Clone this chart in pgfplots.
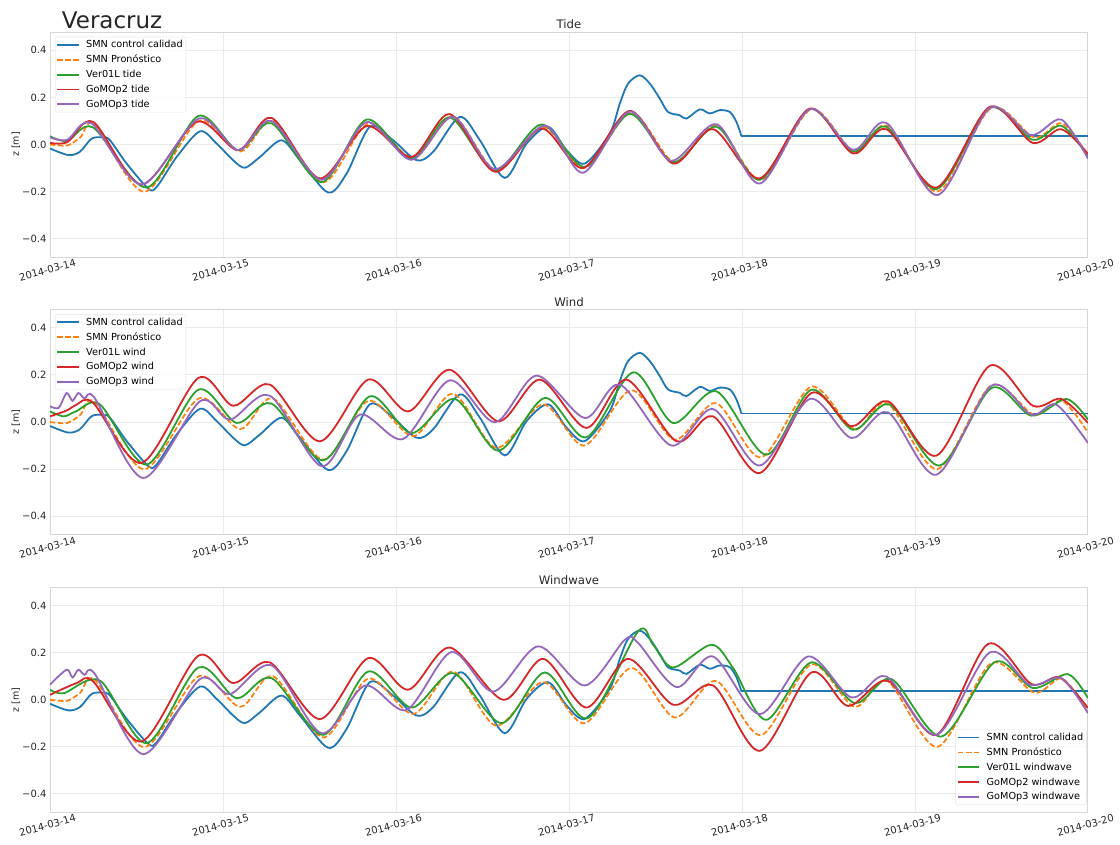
\documentclass[border=0pt]{standalone}
\usepackage{fontspec}
\setmainfont{DejaVu Sans}
\usepackage{pgfplots}
\pgfplotsset{compat=1.18}
\usepackage{pgfplotstable}
\definecolor{tabblue}{HTML}{1F77B4}
\definecolor{taborange}{HTML}{FF7F0E}
\definecolor{tabgreen}{HTML}{2CA02C}
\definecolor{tabred}{HTML}{D62728}
\definecolor{tabpurple}{HTML}{9467BD}
\definecolor{txt}{HTML}{262626}
\definecolor{gridc}{HTML}{EAEAEA}
\definecolor{framec}{HTML}{D6D6D6}
\definecolor{legc}{HTML}{E4E4E4}

% observed (shared)
\pgfplotstableread{
d v
0 -0.017
0.106 -0.045
0.173 -0.031
0.241 0.025
0.308 0.030
0.347 0.018
0.443 -0.081
0.568 -0.187
0.617 -0.180
0.732 -0.053
0.867 0.056
0.963 0.004
1.059 -0.067
1.127 -0.099
1.214 -0.053
1.339 0.018
1.445 -0.067
1.608 -0.204
1.715 -0.123
1.849 0.075
1.98 0.02
2.119 -0.067
2.215 -0.031
2.369 0.117
2.485 0.018
2.629 -0.142
2.755 0.004
2.880 0.075
2.986 -0.024
3.092 -0.081
3.236 0.047
3.294 0.174
3.342 0.259
3.409 0.294
3.467 0.259
3.525 0.195
3.573 0.138
3.641 0.124
3.679 0.110
3.756 0.149
3.814 0.132
3.872 0.146
3.930 0.138
3.968 0.096
3.997 0.036
}\obs
\pgfplotstableread{
d v
3.997 0.036
6 0.036
}\obsflat
% SMN forecast (shared)
\pgfplotstableread{
d v
0 0.0
0.1 -0.004
0.175 0.03
0.26 0.085
0.545 -0.201
0.86 0.10
1.10 -0.03
1.29 0.10
1.58 -0.16
1.84 0.09
2.10 -0.06
2.33 0.12
2.58 -0.11
2.85 0.075
3.09 -0.10
3.36 0.135
3.61 -0.075
3.85 0.08
4.11 -0.15
4.40 0.15
4.65 -0.03
4.84 0.08
5.13 -0.20
5.44 0.155
5.69 0.03
5.85 0.09
6.0 -0.045
}\fcst
% Tide
\pgfplotstableread{
d v
0 0.035
0.1 0.015
0.25 0.072
0.559 -0.183
0.857 0.121
1.088 -0.024
1.281 0.09
1.57 -0.16
1.83 0.106
2.09 -0.06
2.311 0.115
2.572 -0.11
2.841 0.085
3.092 -0.095
3.352 0.13
3.602 -0.075
3.853 0.075
4.103 -0.15
4.392 0.15
4.642 -0.03
4.835 0.075
5.124 -0.19
5.432 0.155
5.68 0.02
5.846 0.08
6 -0.05
}\greenT
\pgfplotstableread{
d v
0 0.007
0.1 0.01
0.25 0.096
0.53 -0.17
0.848 0.096
1.088 -0.024
1.281 0.113
1.56 -0.144
1.83 0.078
2.09 -0.053
2.311 0.129
2.572 -0.116
2.841 0.068
3.082 -0.1
3.352 0.143
3.602 -0.081
3.833 0.065
4.103 -0.144
4.392 0.153
4.642 -0.038
4.835 0.065
5.124 -0.183
5.432 0.16
5.68 0.007
5.846 0.065
6 -0.04
}\redT
\pgfplotstableread{
d v
0 0.03
0.1 0.02
0.24 0.09
0.53 -0.17
0.86 0.11
1.088 -0.024
1.28 0.10
1.57 -0.15
1.83 0.095
2.09 -0.065
2.33 0.117
2.572 -0.105
2.86 0.08
3.082 -0.12
3.352 0.14
3.59 -0.069
3.853 0.086
4.103 -0.166
4.392 0.15
4.642 -0.023
4.835 0.092
5.13 -0.215
5.432 0.155
5.67 0.04
5.846 0.106
6 -0.06
}\purpleT
% Wind
\pgfplotstableread{
d v
0 0.045
0.08 0.024
0.15 0.045
0.29 0.074
0.559 -0.181
0.857 0.137
1.079 -0.004
1.281 0.078
1.579 -0.163
1.849 0.109
2.09 -0.047
2.34 0.098
2.591 -0.122
2.86 0.102
3.101 -0.065
3.371 0.211
3.602 -0.004
3.853 0.130
4.141 -0.139
4.401 0.137
4.642 -0.033
4.854 0.074
5.143 -0.185
5.442 0.144
5.673 0.027
5.875 0.098
6 0.01
}\greenW
\pgfplotstableread{
d v
0 0.024
0.1 0.05
0.154 0.074
0.25 0.081
0.53 -0.174
0.857 0.187
1.059 0.069
1.271 0.159
1.56 -0.082
1.839 0.18
2.071 0.045
2.311 0.222
2.591 0.003
2.832 0.18
3.101 -0.025
3.333 0.18
3.622 -0.082
3.833 0.024
4.103 -0.217
4.401 0.123
4.633 -0.018
4.844 0.088
5.124 -0.143
5.432 0.239
5.682 0.069
5.846 0.098
6 -0.004
}\redW
\pgfplotstableread{
d v
0 0.067
0.05 0.06
0.096 0.123
0.13 0.09
0.164 0.123
0.2 0.10
0.26 0.10
0.539 -0.238
0.867 0.088
1.04 0.01
1.271 0.112
1.57 -0.188
1.791 0.031
2.042 -0.072
2.311 0.177
2.572 -0.001
2.812 0.197
3.092 0.017
3.294 0.159
3.592 -0.1
3.833 0.055
4.103 -0.185
4.392 0.098
4.633 -0.068
4.844 0.041
5.124 -0.224
5.442 0.154
5.673 0.031
5.817 0.074
6 -0.089
}\purpleW
% Windwave
\pgfplotstableread{
d v
0 0.043
0.08 0.028
0.29 0.081
0.559 -0.184
0.857 0.137
1.079 0.007
1.281 0.092
1.579 -0.149
1.839 0.12
2.09 -0.033
2.33 0.113
2.61 -0.099
2.86 0.116
3.11 -0.078
3.40 0.291
3.486 0.234
3.602 0.137
3.824 0.234
3.949 0.135
4.141 -0.085
4.401 0.159
4.652 -0.014
4.864 0.088
5.153 -0.156
5.461 0.16
5.682 0.05
5.884 0.109
6 0.007
}\greenWW
\pgfplotstableread{
d v
0 0.021
0.154 0.071
0.25 0.078
0.53 -0.177
0.857 0.187
1.059 0.071
1.271 0.159
1.56 -0.082
1.839 0.177
2.071 0.043
2.311 0.222
2.62 0.0
2.851 0.174
3.101 -0.033
3.342 0.174
3.602 -0.021
3.833 0.061
4.103 -0.217
4.401 0.116
4.613 -0.026
4.844 0.081
5.124 -0.149
5.422 0.237
5.673 0.067
5.836 0.095
6 -0.035
}\redWW
\pgfplotstableread{
d v
0 0.064
0.096 0.128
0.13 0.095
0.164 0.128
0.2 0.106
0.26 0.109
0.539 -0.231
0.867 0.088
1.04 0.024
1.281 0.146
1.57 -0.142
1.82 0.06
2.061 -0.043
2.321 0.203
2.562 0.035
2.822 0.227
3.092 0.061
3.323 0.255
3.40 0.241
3.622 0.054
3.833 0.184
4.103 -0.061
4.382 0.184
4.633 0.01
4.835 0.099
5.124 -0.149
5.432 0.201
5.663 0.064
5.846 0.092
6 -0.057
}\purpleWW

\newcommand{\lgent}[1]{\vphantom{lp}#1}
\pgfplotsset{
  panel/.style={
    scale only axis, width=1038pt, height=225pt,
    xmin=0, xmax=6, ymin=-0.478, ymax=0.478,
    xtick={0,1,2,3,4,5,6},
    xticklabels={2014-03-14,2014-03-15,2014-03-16,2014-03-17,2014-03-18,2014-03-19,2014-03-20},
    ytick={-0.4,-0.2,0,0.2,0.4},
    yticklabels={−0.4,−0.2,0.0,0.2,0.4},
    major tick length=0pt,
    xmajorgrids, ymajorgrids,
    grid style={draw=gridc, line width=0.9pt},
    axis line style={draw=framec, line width=0.9pt},
    tick label style={font=\fontsize{10}{12}\selectfont\color{txt}},
    yticklabel style={anchor=east, inner sep=0pt, xshift=-3.3pt},
    xticklabel style={anchor=center, inner sep=0pt, xshift=-2.5pt, yshift=-13pt, rotate=15},
    ylabel={z [m]},
    ylabel style={at={(axis description cs:-0.0328,0.5)}, anchor=center, inner sep=0pt, font=\fontsize{9.5}{11}\selectfont\color{txt}},
    title style={at={(0.5,1)}, anchor=base, yshift=-3pt, inner sep=0pt, font=\fontsize{11.7}{13}\selectfont\color{txt}},
    legend cell align=left,
    legend style={font=\fontsize{9.7}{11}\selectfont, fill=white, fill opacity=0.8, text opacity=1, draw=legc, rounded corners=2pt,
      inner xsep=1.2pt, inner ysep=1.5pt, column sep=4.3pt, row sep=1.9pt},
    legend image code/.code={\draw[mark repeat=2,mark phase=2,#1] plot coordinates {(0pt,0pt) (10.85pt,0pt) (21.7pt,0pt)};},
  },
  obsl/.style={color=tabblue, line width=1.8pt, smooth},
  obsf/.style={color=tabblue, line width=1.8pt, sharp plot},
  fc/.style={color=taborange, line width=1.7pt, smooth, dash pattern=on 5.5pt off 2.4pt},
  gr/.style={color=tabgreen, line width=1.8pt, smooth},
  rd/.style={color=tabred, line width=1.8pt, smooth},
  pu/.style={color=tabpurple, line width=1.8pt, smooth},
}

\begin{document}
\begin{tikzpicture}
% ---------- Tide ----------
\begin{axis}[panel, at={(50pt,588pt)}, anchor=south west, title={Tide},
  legend style={at={(0.0048,0.979)}, anchor=north west}]
\addplot[obsl] table[x=d,y=v] {\obs};
\addlegendentry{\lgent{SMN control calidad}}
\addplot[obsf, forget plot] table[x=d,y=v] {\obsflat};
\addplot[fc] table[x=d,y=v] {\fcst};
\addlegendentry{\lgent{SMN Pronóstico}}
\addplot[gr] table[x=d,y=v] {\greenT};
\addlegendentry{\lgent{Ver01L tide}}
\addplot[rd] table[x=d,y=v] {\redT};
\addlegendentry{\lgent{GoMOp2 tide}}
\addplot[pu] table[x=d,y=v] {\purpleT};
\addlegendentry{\lgent{GoMOp3 tide}}
\end{axis}
% ---------- Wind ----------
\begin{axis}[panel, at={(50pt,310.5pt)}, anchor=south west, title={Wind},
  legend style={at={(0.0048,0.979)}, anchor=north west}]
\addplot[obsl] table[x=d,y=v] {\obs};
\addlegendentry{\lgent{SMN control calidad}}
\addplot[obsf, forget plot] table[x=d,y=v] {\obsflat};
\addplot[fc] table[x=d,y=v] {\fcst};
\addlegendentry{\lgent{SMN Pronóstico}}
\addplot[gr] table[x=d,y=v] {\greenW};
\addlegendentry{\lgent{Ver01L wind}}
\addplot[rd] table[x=d,y=v] {\redW};
\addlegendentry{\lgent{GoMOp2 wind}}
\addplot[pu] table[x=d,y=v] {\purpleW};
\addlegendentry{\lgent{GoMOp3 wind}}
\end{axis}
% ---------- Windwave ----------
\begin{axis}[panel, at={(50pt,32.7pt)}, anchor=south west, title={Windwave},
  legend style={at={(0.9987,0.0324)}, anchor=south east}]
\addplot[obsl] table[x=d,y=v] {\obs};
\addlegendentry{\lgent{SMN control calidad}}
\addplot[obsf, forget plot] table[x=d,y=v] {\obsflat};
\addplot[fc] table[x=d,y=v] {\fcst};
\addlegendentry{\lgent{SMN Pronóstico}}
\addplot[gr] table[x=d,y=v] {\greenWW};
\addlegendentry{\lgent{Ver01L windwave}}
\addplot[rd] table[x=d,y=v] {\redWW};
\addlegendentry{\lgent{GoMOp2 windwave}}
\addplot[pu] table[x=d,y=v] {\purpleWW};
\addlegendentry{\lgent{GoMOp3 windwave}}
\end{axis}
\node[anchor=base west, inner sep=0pt, font=\fontsize{23}{26}\selectfont\color{txt}] at (61.7pt,816.7pt) {Veracruz};
\pgfresetboundingbox
\path[use as bounding box] (0pt,0pt) rectangle (1120pt,845pt);
\end{tikzpicture}
\end{document}
